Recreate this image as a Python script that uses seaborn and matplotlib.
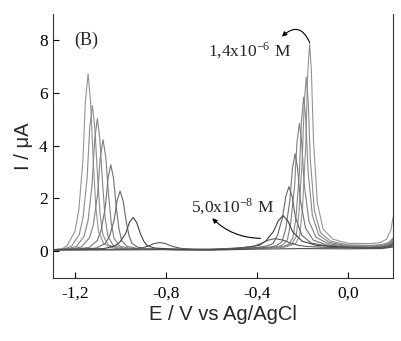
import pandas as pd
import seaborn as sns
import matplotlib
matplotlib.use('Agg')
import matplotlib.pyplot as plt

# =============================================================================
# Data (E in V, I in uA), one list pair per curve
# =============================================================================
e_1 = [-1.30, -1.26,
       -1.236, -1.202, -1.185, -1.167, -1.156, -1.144, -1.133, -1.121, -1.110, -1.098, -1.075, -1.029,
       -0.95, -0.75, -0.60, -0.45, -0.33, -0.27,
       -0.228, -0.211, -0.199, -0.185, -0.177, -0.168, -0.160, -0.151, -0.134, -0.109, -0.066,
       0.0, 0.10, 0.14, 0.17, 0.19, 0.20]
i_1 = [0.06, 0.08,
       0.21, 0.75, 1.54, 3.41, 5.67, 6.73, 5.67, 3.41, 1.68, 0.75, 0.28, 0.11,
       0.08, 0.06, 0.06, 0.10, 0.14, 0.17,
       0.31, 0.62, 1.70, 4.03, 6.66, 7.90, 6.81, 4.18, 1.85, 0.84, 0.46,
       0.30, 0.29, 0.32, 0.45, 0.80, 1.30]

e_2 = [-1.30, -1.25,
       -1.217, -1.183, -1.166, -1.148, -1.137, -1.125, -1.114, -1.102, -1.091, -1.079, -1.056, -1.010,
       -0.90, -0.75, -0.60, -0.45, -0.33, -0.28,
       -0.246, -0.228, -0.215, -0.201, -0.192, -0.183, -0.174, -0.165, -0.147, -0.120, -0.075,
       0.0, 0.10, 0.15, 0.18, 0.20]
i_2 = [0.06, 0.08,
       0.19, 0.63, 1.28, 2.81, 4.66, 5.53, 4.66, 2.81, 1.39, 0.63, 0.24, 0.11,
       0.08, 0.06, 0.06, 0.10, 0.14, 0.16,
       0.28, 0.54, 1.44, 3.38, 5.57, 6.60, 5.67, 3.48, 1.54, 0.70, 0.38,
       0.24, 0.22, 0.25, 0.33, 0.50]

e_3 = [-1.30, -1.24,
       -1.195, -1.161, -1.144, -1.126, -1.115, -1.103, -1.092, -1.080, -1.069, -1.057, -1.034, -0.988,
       -0.90, -0.75, -0.60, -0.45, -0.34, -0.29,
       -0.261, -0.242, -0.228, -0.213, -0.204, -0.194, -0.185, -0.175, -0.156, -0.128, -0.080,
       0.0, 0.10, 0.15, 0.18, 0.20]
i_3 = [0.06, 0.08,
       0.18, 0.58, 1.17, 2.56, 4.24, 5.03, 4.24, 2.56, 1.27, 0.58, 0.23, 0.11,
       0.08, 0.06, 0.06, 0.10, 0.14, 0.16,
       0.26, 0.49, 1.29, 3.00, 4.94, 5.85, 5.01, 3.07, 1.36, 0.62, 0.33,
       0.21, 0.20, 0.22, 0.30, 0.45]

e_4 = [-1.30, -1.22,
       -1.174, -1.138, -1.121, -1.102, -1.090, -1.078, -1.066, -1.054, -1.042, -1.030, -1.006, -0.958,
       -0.85, -0.70, -0.55, -0.45, -0.36, -0.31,
       -0.287, -0.266, -0.251, -0.234, -0.224, -0.213, -0.203, -0.192, -0.171, -0.140, -0.087,
       0.0, 0.10, 0.15, 0.18, 0.20]
i_4 = [0.06, 0.08,
       0.16, 0.50, 0.99, 2.16, 3.57, 4.23, 3.57, 2.16, 1.08, 0.50, 0.20, 0.10,
       0.07, 0.06, 0.07, 0.10, 0.14, 0.16,
       0.24, 0.43, 1.09, 2.50, 4.10, 4.85, 4.15, 2.55, 1.14, 0.53, 0.29,
       0.18, 0.17, 0.19, 0.26, 0.40]

e_5 = [-1.30, -1.20,
       -1.140, -1.104, -1.087, -1.068, -1.056, -1.044, -1.032, -1.020, -1.008, -0.996, -0.972, -0.924,
       -0.85, -0.70, -0.55, -0.45, -0.38, -0.34,
       -0.313, -0.290, -0.273, -0.255, -0.244, -0.232, -0.221, -0.209, -0.186, -0.152, -0.094,
       0.0, 0.10, 0.15, 0.18, 0.20]
i_5 = [0.06, 0.08,
       0.14, 0.40, 0.78, 1.68, 2.77, 3.28, 2.77, 1.68, 0.85, 0.40, 0.18, 0.10,
       0.07, 0.06, 0.07, 0.10, 0.13, 0.16,
       0.22, 0.36, 0.86, 1.93, 3.13, 3.70, 3.15, 1.95, 0.88, 0.42, 0.24,
       0.16, 0.15, 0.17, 0.22, 0.35]

e_6 = [-1.30, -1.18,
       -1.107, -1.068, -1.050, -1.029, -1.016, -1.003, -0.990, -0.977, -0.964, -0.951, -0.925, -0.873,
       -0.78, -0.65, -0.52, -0.44, -0.39,
       -0.357, -0.329, -0.309, -0.287, -0.273, -0.259, -0.245, -0.231, -0.203, -0.161, -0.091,
       0.0, 0.10, 0.15, 0.18, 0.20]
i_6 = [0.06, 0.08,
       0.12, 0.30, 0.56, 1.18, 1.93, 2.28, 1.93, 1.18, 0.61, 0.30, 0.15, 0.09,
       0.07, 0.06, 0.08, 0.11, 0.15,
       0.20, 0.29, 0.61, 1.30, 2.08, 2.45, 2.08, 1.30, 0.61, 0.31, 0.20,
       0.14, 0.13, 0.15, 0.20, 0.30]

e_7 = [-1.30, -1.15,
       -1.074, -1.026, -1.004, -0.978, -0.962, -0.946, -0.930, -0.914, -0.898, -0.882, -0.850, -0.786,
       -0.68, -0.55, -0.48,
       -0.432, -0.390, -0.361, -0.327, -0.306, -0.285, -0.264, -0.243, -0.201, -0.138, -0.033,
       0.05, 0.10, 0.15, 0.18, 0.20]
i_7 = [0.06, 0.08,
       0.10, 0.20, 0.34, 0.68, 1.09, 1.28, 1.09, 0.68, 0.37, 0.20, 0.12, 0.09,
       0.07, 0.07, 0.12,
       0.17, 0.22, 0.39, 0.75, 1.16, 1.35, 1.15, 0.74, 0.38, 0.22, 0.16,
       0.13, 0.12, 0.14, 0.17, 0.25]

e_8 = [-1.30, -1.10, -0.953, -0.928, -0.903, -0.878, -0.853, -0.828, -0.803, -0.778, -0.753, -0.728, -0.678, -0.603,
       -0.47, -0.44, -0.41, -0.38, -0.35, -0.32, -0.285, -0.25, -0.215, -0.18, -0.11,
       0.0, 0.10, 0.15, 0.20]
i_8 = [0.05, 0.07, 0.08, 0.10, 0.13, 0.20, 0.29, 0.33, 0.29, 0.20, 0.14, 0.10, 0.08, 0.07,
       0.13, 0.15, 0.20, 0.30, 0.42, 0.48, 0.42, 0.30, 0.22, 0.18, 0.15,
       0.13, 0.12, 0.13, 0.20]

# blank
e_9 = [-1.30, -1.00, -0.80, -0.60, -0.40, -0.20, 0.0, 0.15, 0.20]
i_9 = [0.04, 0.05, 0.06, 0.04, 0.08, 0.10, 0.09, 0.10, 0.16]

x_ticks = [-1.2, -0.8, -0.4, 0.0]
x_tick_labels = ['-1,2', '-0,8', '-0,4', '0,0']
y_ticks = [0, 2, 4, 6, 8]

# =============================================================================
# Long-format DataFrame
# =============================================================================
curves = [(e_1, i_1), (e_2, i_2), (e_3, i_3), (e_4, i_4), (e_5, i_5),
          (e_6, i_6), (e_7, i_7), (e_8, i_8), (e_9, i_9)]
dfs = []
for k, (e, i) in enumerate(curves):
    dfs.append(pd.DataFrame({'E': e, 'I': i, 'curve': f'c{k + 1}'}))
df_plot = pd.concat(dfs, ignore_index=True)

# =============================================================================
# Plotting
# =============================================================================
sns.set_style('ticks')
plt.rcParams['font.family'] = ['Liberation Serif', 'DejaVu Serif']
plt.rcParams['mathtext.fontset'] = 'stix'

fig, ax = plt.subplots(figsize=(4.02, 3.41), dpi=100)
fig.subplots_adjust(left=0.131, right=0.978, bottom=0.186, top=0.959)

greys = ['0.58', '0.55', '0.52', '0.5', '0.45', '0.4', '0.25', '0.35', '0.3']
sns.lineplot(data=df_plot, x='E', y='I', hue='curve', palette=greys,
             estimator=None, sort=False, legend=False, linewidth=0.8, ax=ax)

ax.set_xlim(-1.3, 0.2)
ax.set_ylim(-1, 9)
ax.set_xticks(x_ticks)
ax.set_xticklabels(x_tick_labels)
ax.set_yticks(y_ticks)
ax.tick_params(direction='in', length=4, width=0.8, labelsize=12.5, colors='black')
ax.tick_params(axis='x', pad=6)
ax.spines['top'].set_visible(False)
for s in ['left', 'right', 'bottom']:
    ax.spines[s].set_linewidth(0.8)
    ax.spines[s].set_color('0.2')

ax.set_xlabel('E / V vs Ag/AgCl', family='Liberation Sans', fontsize=14.5, labelpad=2)
ax.set_ylabel('I / μA', family='Liberation Sans', fontsize=14.5, labelpad=4)

ax.text(-1.15, 8.0, '(B)', ha='center', va='center', fontsize=13)
ax.text(-0.433, 7.6, r'1,4x10$^{\mathregular{-6}}$ M', ha='center', va='center', fontsize=12.5)
ax.text(-0.508, 1.67, r'5,0x10$^{\mathregular{-8}}$ M', ha='center', va='center', fontsize=12.5)

ax.annotate('', xy=(-0.29, 8.14), xytext=(-0.168, 7.92),
            arrowprops=dict(arrowstyle='-|>', color='black', lw=0.8, mutation_scale=7,
                            shrinkA=0, shrinkB=0, connectionstyle='arc3,rad=0.7'))
ax.annotate('', xy=(-0.597, 1.25), xytext=(-0.385, 0.49),
            arrowprops=dict(arrowstyle='-|>', color='black', lw=0.8, mutation_scale=7,
                            shrinkA=0, shrinkB=0, connectionstyle='arc3,rad=-0.2'))

plt.savefig('out.png', dpi=100)
